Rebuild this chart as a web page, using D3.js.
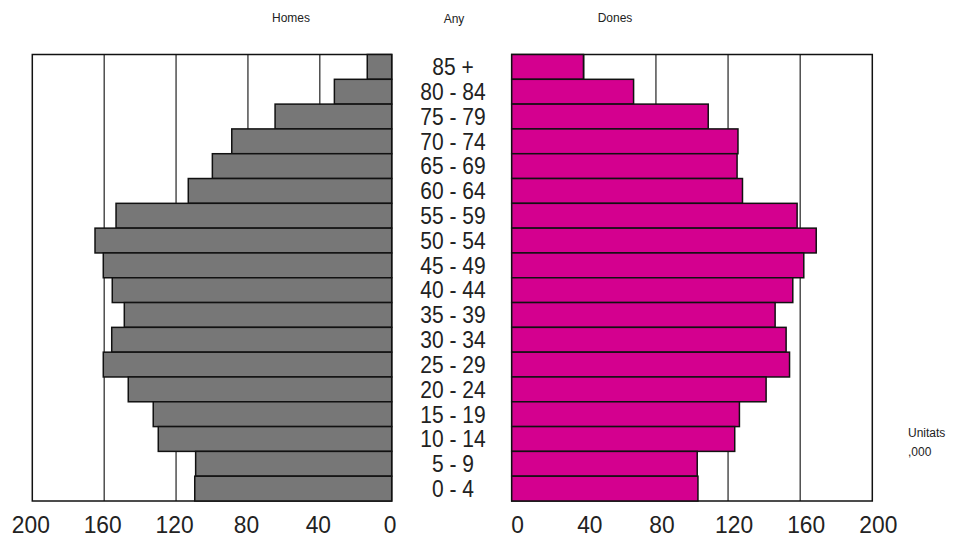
<!DOCTYPE html>
<html><head><meta charset="utf-8">
<script src="https://cdn.jsdelivr.net/npm/d3@7"></script>
<style>body{margin:0;background:#fff}svg{display:block}</style>
</head><body>
<svg id="c" width="955" height="543"></svg>
<script>
const categories = ["85 +","80 - 84","75 - 79","70 - 74","65 - 69","60 - 64","55 - 59","50 - 54","45 - 49","40 - 44","35 - 39","30 - 34","25 - 29","20 - 24","15 - 19","10 - 14","5 - 9","0 - 4"];
const homes = [13.6,31.9,64.9,89,99.8,113.2,153.4,165.1,160.5,155.5,148.8,155.8,160.5,146.6,132.7,129.9,109.1,109.6];
const dones = [39.8,67.6,109,125.5,125,128,158.3,168.9,162,155.9,146.1,152.2,154.1,141.1,126.3,123.7,102.9,103.3];
const ticks = [0,40,80,120,160,200];
const titles = {left:"Homes", mid:"Any", right:"Dones"};
const unitLines = ["Unitats", ",000"];

const svg = d3.select("#c");
const plotTop = 54.5, plotBottom = 501;
const y = d3.scaleBand().domain(categories).range([plotTop, plotBottom]).padding(0);
const xL = d3.scaleLinear().domain([0,200]).range([391.7,32.3]);
const xR = d3.scaleLinear().domain([0,200]).range([511.7,872.3]);
const font = "'Liberation Sans', Arial, sans-serif";

function panel(x, data, color, labelShift) {
  const g = svg.append("g");
  g.selectAll("line.grid").data(ticks.filter(t => t>0 && t<200)).enter().append("line")
    .attr("x1", d=>x(d)).attr("x2", d=>x(d)).attr("y1", plotTop).attr("y2", plotBottom)
    .attr("stroke", "#222").attr("stroke-width", 1.2);
  g.append("rect").attr("x", Math.min(x(0),x(200))).attr("y", plotTop)
    .attr("width", Math.abs(x(200)-x(0))).attr("height", plotBottom-plotTop)
    .attr("fill","none").attr("stroke","#111").attr("stroke-width",1.5);
  g.selectAll("rect.bar").data(data).enter().append("rect")
    .attr("x", d=>Math.min(x(0), x(d)))
    .attr("y", (d,i)=>y(categories[i]))
    .attr("width", d=>Math.abs(x(d)-x(0)))
    .attr("height", y.bandwidth())
    .attr("fill", color).attr("stroke", "#111").attr("stroke-width", 1.5);
  g.append("g").selectAll("text").data(ticks).enter().append("text")
    .attr("transform", d=>`translate(${x(d)+labelShift},533) scale(1,1.08)`)
    .attr("text-anchor","middle").attr("font-family", font).attr("font-size", 22.8).attr("fill", "#222")
    .text(d3.format("d"));
}
panel(xL, homes, "#777777", -1.5);
panel(xR, dones, "#D4008F", 6);

svg.append("g").selectAll("text").data(categories).enter().append("text")
  .attr("transform", d=>`translate(453,${y(d)+y.bandwidth()/2}) scale(1,1.1)`).attr("dy","0.36em")
  .attr("text-anchor","middle").attr("font-family", font).attr("font-size", 21).attr("fill","#222")
  .text(d=>d);

const small = 12;
svg.append("text").attr("x",291).attr("y",22).attr("text-anchor","middle").attr("font-family",font).attr("font-size",small).attr("fill","#222").text(titles.left);
svg.append("text").attr("x",454).attr("y",23).attr("text-anchor","middle").attr("font-family",font).attr("font-size",small).attr("fill","#222").text(titles.mid);
svg.append("text").attr("x",615).attr("y",22).attr("text-anchor","middle").attr("font-family",font).attr("font-size",small).attr("fill","#222").text(titles.right);
svg.append("g").selectAll("text").data(unitLines).enter().append("text")
  .attr("x",908).attr("y",(d,i)=>437+i*19).attr("font-family",font).attr("font-size",small).attr("fill","#222").text(d=>d);
</script>
</body></html>
